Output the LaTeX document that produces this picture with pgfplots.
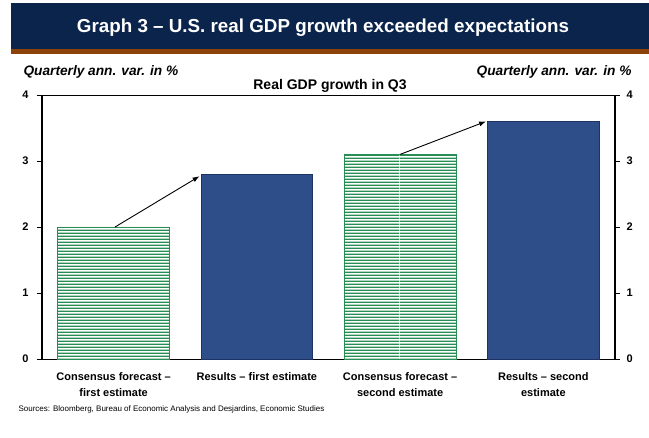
\documentclass[border=0pt]{standalone}
\usepackage{pgfplots}
\pgfplotsset{compat=1.18}
\usepackage{fontspec}
\setmainfont{Liberation Sans}
\usetikzlibrary{arrows.meta,patterns}

\definecolor{navy}{RGB}{10,36,76}
\definecolor{rust}{RGB}{140,66,8}
\definecolor{stripegreen}{RGB}{40,140,85}
\definecolor{barblue}{RGB}{46,78,138}
\definecolor{baredge}{RGB}{30,50,100}

% wide horizontal stripes for the consensus bars
\pgfdeclarepatternformonly{hstripes}{\pgfpointorigin}{\pgfpoint{200pt}{2.8pt}}{\pgfpoint{200pt}{2.8pt}}{%
  \pgfpathrectangle{\pgfpoint{0pt}{0pt}}{\pgfpoint{200pt}{1.4pt}}\pgfusepath{fill}}

\pgfplotstableread{
x y
0 2.0
2 3.1
}\consensus
\pgfplotstableread{
x y
1 2.8
3 3.6
}\results

\begin{document}
\begin{tikzpicture}[x=1pt,y=1pt]
\useasboundingbox (0,0) rectangle (649,438);

% header band
\fill[navy] (11,389) rectangle (649,435);
\fill[rust] (11,384) rectangle (649,389);
\node[text=white,font=\fontsize{18.8}{22}\selectfont\bfseries] at (323,410) {Graph 3 – U.S. real GDP growth exceeded expectations};

% unit labels and chart title
\node[anchor=west,font=\fontsize{13.7}{16}\selectfont\bfseries\itshape] at (20,366) {Quarterly ann. var. in \%};
\node[anchor=east,font=\fontsize{13.7}{16}\selectfont\bfseries\itshape] at (635,366) {Quarterly ann. var. in \%};
\node[font=\fontsize{14}{16}\selectfont\bfseries] at (330,352) {Real GDP growth in Q3};

\begin{axis}[
  at={(42pt,79pt)}, anchor=south west,
  scale only axis, width=573pt, height=264pt,
  xmin=-0.5, xmax=3.5, ymin=0, ymax=4,
  separate axis lines,
  axis x line=box, axis y line=box,
  x axis line style={line width=0.9pt},
  y axis line style={line width=1.5pt},
  xtick={0,1,2,3},
  xtick style={draw=none},
  xticklabels={{Consensus forecast –\\first estimate},{Results – first estimate},{Consensus forecast –\\second estimate},{Results – second\\estimate}},
  xticklabel style={align=center,font=\fontsize{11}{16.5}\selectfont\bfseries,anchor=north,yshift=-5pt},
  ytick={0,1,2,3,4},
  ytick pos=both, tick align=outside,
  major tick length=5pt,
  ytick style={line width=0.8pt,black},
  yticklabel pos=left,
  /pgf/number format/assume math mode=true,
  yticklabel style={font=\fontsize{11}{13}\selectfont\bfseries,xshift=-5pt},
  ybar, bar width=0.78, bar shift=0pt,
  clip=false,
]
\addplot[draw=stripegreen,line width=0.8pt,fill=white,
  postaction={pattern=hstripes,pattern color=stripegreen}]
  table[x=x,y=y]{\consensus};
\addplot[draw=baredge,line width=0.6pt,fill=barblue] table[x=x,y=y]{\results};
\draw[-{Latex[length=7pt,width=5pt]},line width=0.9pt] (axis cs:0.01,2.0) -- (axis cs:0.6,2.77);
\draw[-{Latex[length=7pt,width=5pt]},line width=0.9pt] (axis cs:2.0,3.1) -- (axis cs:2.6,3.6);
\end{axis}

\begin{axis}[
  at={(42pt,79pt)}, anchor=south west,
  scale only axis, width=573pt, height=264pt,
  xmin=-0.5, xmax=3.5, ymin=0, ymax=4,
  axis x line=none, axis y line*=right,
  axis line style={draw=none},
  ytick={0,1,2,3,4},
  major tick length=0pt,
  /pgf/number format/assume math mode=true,
  yticklabel style={font=\fontsize{11}{13}\selectfont\bfseries,xshift=8pt},
]
\end{axis}

\node[anchor=west,font=\fontsize{8}{10}\selectfont] at (15,29) {Sources: Bloomberg, Bureau of Economic Analysis and Desjardins, Economic Studies};
\end{tikzpicture}
\end{document}
